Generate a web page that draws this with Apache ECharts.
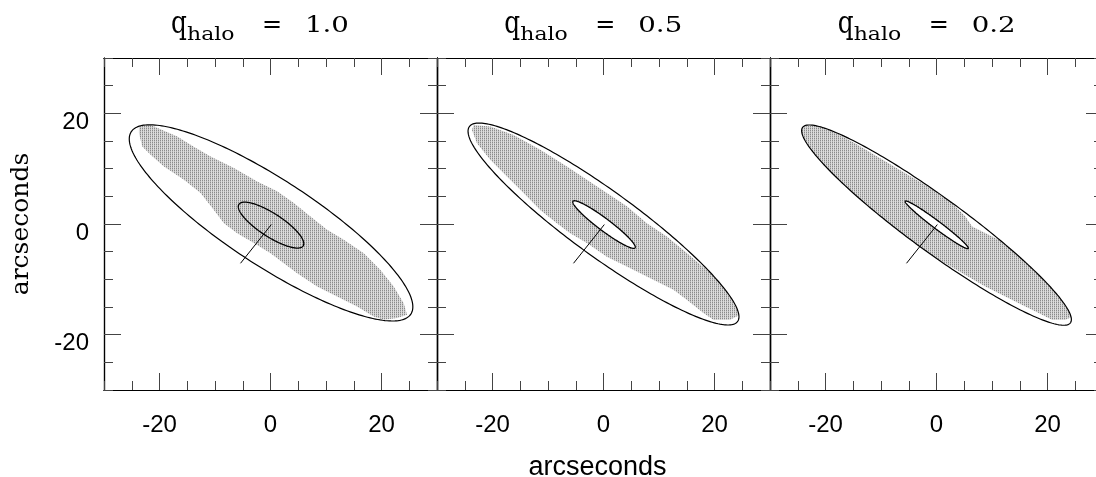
<!DOCTYPE html>
<html><head><meta charset="utf-8">
<script src="https://cdn.jsdelivr.net/npm/echarts@6/dist/echarts.min.js"></script>
<style>html,body{margin:0;padding:0;background:#fff}#c{width:1096px;height:477px}</style>
</head><body><div id="c"></div>
<script>
// ---------------- data ----------------
const panelTitles = ['1.0', '0.5', '0.2'];
const tickLabels = [-20, 0, 20];          // labelled (long) ticks
const minorTickValues = [-30, -25, -20, -15, -10, -5, 0, 5, 10, 15, 20, 25, 30];
// ellipses: [centerX, centerY, semiMajor, semiMinor, angleDeg]
const outerEllipse = [
  [0.1, 0.2, 30.1, 7.8, -33.2],
  [0.0, 0.0, 29.9, 5.9, -36.1],
  [0.0, -0.2, 29.9, 4.9, -36.2]
];
const innerEllipse = [
  [0.1, -0.2, 6.9, 2.1, -33],
  [0.1, -0.1, 7.0, 1.1, -37],
  [0.05, -0.15, 7.1, 0.7, -37]
];
const pointerSegment = [[-5.4, -7.1], [0.15, -0.1]];
// shaded (stippled) regions, one polygon per panel
const shading1 = [[-23.7,18.1],[-21.6,17.9],[-16.8,15.8],[-13.9,14.0],[-10.8,12.2],[-6.6,10.1],[-2.4,7.7],[1.2,5.9],[4.2,3.8],[7.2,1.35],[10.2,-1.05],[13.2,-2.85],[16.8,-5.3],[19.8,-8.3],[22.2,-11.3],[24.0,-14.3],[24.6,-16.4],
  [22.8,-17.0],[20.4,-17.3],[18.6,-16.7],[15.6,-14.9],[12.0,-13.1],[8.4,-11.3],[4.8,-8.9],[2.4,-7.1],[0,-5.3],[-3.0,-3.45],[-6.0,-1.65],[-8.4,0.15],[-10.2,2.55],[-12.6,5.6],[-15.6,8.0],[-19.2,10.4],[-21.6,12.5],[-23.1,14.0],[-23.7,16.4]];
const shading2 = [[-23.4,17.9],[-20.4,17.6],[-16.2,16.1],[-11.4,13.4],[-6.6,10.4],[-3.0,8.0],[0.6,5.6],[4.2,3.2],[7.8,0.15],[11.4,-2.25],[15.0,-5.25],[18.6,-8.3],[21.6,-11.3],[23.4,-14.3],[24.6,-16.4],
  [22.8,-17.3],[19.8,-17.3],[18.0,-16.1],[15.0,-13.7],[12.6,-11.9],[7.8,-9.5],[4.2,-7.7],[0.6,-5.9],[-3.0,-3.45],[-6.0,-1.65],[-8.4,0.15],[-11.4,2.55],[-14.4,5.6],[-17.4,8.6],[-20.4,11.6],[-22.8,14.6],[-23.7,17.0]];
const shading3 = [[-24.0,17.6],[-20.7,17.9],[-14.7,14.6],[-8.65,11.0],[-2.65,7.4],[2.2,4.4],[5.2,1.35],[6.4,-0.45],[11.2,-2.85],[16.0,-5.9],[19.6,-8.9],[22.6,-12.5],[24.4,-15.5],[24.7,-16.7],
  [23.2,-17.3],[20.8,-17.3],[18.4,-16.1],[16.0,-14.9],[12.4,-13.1],[8.8,-11.3],[5.2,-9.2],[1.55,-7.1],[-2.65,-4.65],[-6.85,-1.65],[-11.65,1.95],[-16.45,6.2],[-20.7,10.4],[-23.7,14.6],[-24.4,16.7]];
const shadings = [shading1, shading2, shading3];
const whiteInner = [false, true, true];

// ---------------- layout ----------------
const grids = [
  {left: 104, top: 58, width: 333, height: 332, outerBoundsMode: 'none'},
  {left: 437, top: 58, width: 333, height: 332, outerBoundsMode: 'none'},
  {left: 770, top: 58, width: 333, height: 332, outerBoundsMode: 'none'}
];

// stipple pattern
const pc = document.createElement('canvas');
pc.width = 2; pc.height = 2;
const pctx = pc.getContext('2d');
pctx.fillStyle = '#dcdcdc'; pctx.fillRect(0, 0, 2, 2);
pctx.fillStyle = '#8a8a8a'; pctx.fillRect(0, 0, 1, 1);
pctx.fillStyle = '#bdbdbd'; pctx.fillRect(0, 1, 1, 1);
const stipple = {image: pc, repeat: 'repeat'};

const FRAME = {show: true, onZero: false, lineStyle: {color: '#000', width: 1.2}};
const tickStyle = {color: '#444', width: 1};
const LABEL_FONT = {fontFamily: 'Liberation Sans', fontSize: 24, color: '#000'};

const xAxes = [], yAxes = [], series = [];
grids.forEach((g, i) => {
  ['bottom', 'top'].forEach(pos => {
    xAxes.push({gridIndex: i, type: 'value', min: -30, max: 30, interval: 5, position: pos,
      axisLine: FRAME, splitLine: {show: false},
      axisTick: {show: true, inside: true, length: 9, customValues: minorTickValues, lineStyle: tickStyle},
      axisLabel: {show: false}});
    xAxes.push({gridIndex: i, type: 'value', min: -30, max: 30, interval: 5, position: pos,
      axisLine: FRAME, splitLine: {show: false},
      axisTick: {show: true, inside: true, length: 17, customValues: tickLabels, lineStyle: tickStyle},
      axisLabel: pos === 'bottom' ? Object.assign({show: true, customValues: tickLabels, margin: 23}, LABEL_FONT) : {show: false},
      name: (pos === 'bottom' && i === 1) ? 'arcseconds' : '',
      nameLocation: 'middle', nameGap: 64,
      nameTextStyle: {fontFamily: 'Liberation Sans', fontSize: 27, color: '#000', padding: [0, 12, 0, 0]}});
  });
  ['left', 'right'].forEach(pos => {
    yAxes.push({gridIndex: i, type: 'value', min: -30, max: 30, interval: 5, position: pos,
      axisLine: FRAME, splitLine: {show: false},
      axisTick: {show: true, inside: true, length: 9, customValues: minorTickValues, lineStyle: tickStyle},
      axisLabel: {show: false}});
    yAxes.push({gridIndex: i, type: 'value', min: -30, max: 30, interval: 5, position: pos,
      axisLine: FRAME, splitLine: {show: false},
      axisTick: {show: true, inside: true, length: 17, customValues: tickLabels, lineStyle: tickStyle},
      axisLabel: (pos === 'left' && i === 0) ? Object.assign({show: true, customValues: tickLabels, margin: 15,
        verticalAlign: 'top', lineHeight: 18}, LABEL_FONT) : {show: false},
      name: (pos === 'left' && i === 0) ? 'arcseconds' : '',
      nameLocation: 'middle', nameGap: 70, nameRotate: 90,
      nameTextStyle: {fontFamily: 'DejaVu Serif', fontSize: 25, color: '#000'}});
  });

  const xi = i * 4, yi = i * 4;
  function ellipseCoords(api, e) {
    const cx = e[0], cy = e[1], a = e[2], b = e[3];
    const t = e[4] * Math.PI / 180;
    const pts = [];
    for (let k = 0; k <= 240; k++) {
      const f = k / 240 * 2 * Math.PI;
      const x = cx + a * Math.cos(f) * Math.cos(t) - b * Math.sin(f) * Math.sin(t);
      const y = cy + a * Math.cos(f) * Math.sin(t) + b * Math.sin(f) * Math.cos(t);
      pts.push(api.coord([x, y]));
    }
    return pts;
  }
  function valuesOf(api) { return [api.value(0), api.value(1), api.value(2), api.value(3), api.value(4)]; }
  const poly = shadings[i];
  series.push({type: 'custom', xAxisIndex: xi, yAxisIndex: yi, data: poly, silent: true, z: 1,
    renderItem(params, api) {
      if (params.dataIndex !== 0) return null;
      return {type: 'polygon', shape: {points: poly.map(p => api.coord(p))}, style: {fill: stipple},
        clipPath: {type: 'polygon', shape: {points: ellipseCoords(api, outerEllipse[i])}}};
    }});
  series.push({type: 'custom', xAxisIndex: xi, yAxisIndex: yi, data: [innerEllipse[i]], silent: true, z: 3,
    encode: {x: 0, y: 1},
    renderItem(params, api) {
      return {type: 'polygon', shape: {points: ellipseCoords(api, valuesOf(api))},
        style: {fill: whiteInner[i] ? '#fff' : 'none', stroke: '#000', lineWidth: 1.3}};
    }});
  series.push({type: 'custom', xAxisIndex: xi, yAxisIndex: yi, data: [outerEllipse[i]], silent: true, z: 3,
    encode: {x: 0, y: 1},
    renderItem(params, api) {
      return {type: 'polygon', shape: {points: ellipseCoords(api, valuesOf(api))},
        style: {fill: 'none', stroke: '#000', lineWidth: 1.2}};
    }});
  series.push({type: 'line', xAxisIndex: xi, yAxisIndex: yi, data: pointerSegment, symbol: 'none', silent: true, z: 4,
    lineStyle: {color: '#000', width: 1}});
});

// panel titles  q_halo = value
const centers = [270, 603.3, 936.7];
const graphic = [];
centers.forEach((c, i) => {
  graphic.push({type: 'text', x: c - 99, y: 25, scaleX: 0.8, style: {text: 'q', font: '31px "DejaVu Serif"', fill: '#000', verticalAlign: 'middle'}});
  graphic.push({type: 'text', x: c - 83, y: 35, scaleX: 1.22, style: {text: 'halo', font: '18px "DejaVu Serif"', fill: '#000', verticalAlign: 'middle'}});
  graphic.push({type: 'text', x: c - 8, y: 26, style: {text: '=', font: '24px "DejaVu Serif"', fill: '#000', verticalAlign: 'middle'}});
  graphic.push({type: 'text', x: c + 35, y: 26, scaleX: 1.2, style: {text: panelTitles[i], font: '23px "DejaVu Serif"', fill: '#000', verticalAlign: 'middle'}});
});

const chart = echarts.init(document.getElementById('c'), null, {renderer: 'canvas'});
chart.setOption({
  animation: false,
  backgroundColor: '#fff',
  grid: grids,
  xAxis: xAxes,
  yAxis: yAxes,
  series: series,
  graphic: graphic
});
</script></body></html>
